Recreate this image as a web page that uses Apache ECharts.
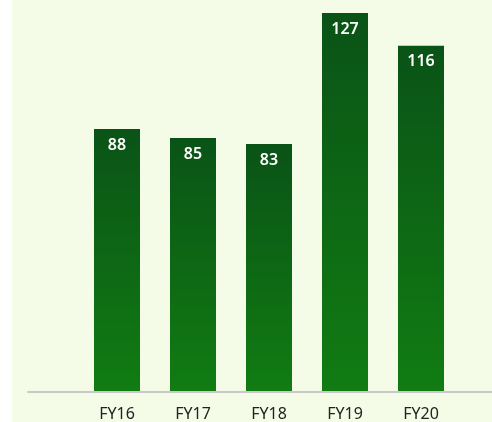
<!DOCTYPE html>
<html>
<head>
<meta charset="utf-8">
<script src="https://cdn.jsdelivr.net/npm/echarts@6/dist/echarts.min.js"></script>
<style>
  html, body { margin: 0; padding: 0; background: #ffffff; }
  #chart { position: absolute; left: 12px; top: 0; width: 480px; height: 422px; background: #f4fce8; }
</style>
</head>
<body>
<div id="chart"></div>
<script>
  // chart data
  var years = ['FY16', 'FY17', 'FY18', 'FY19', 'FY20']
  var values = [88, 85, 83, 127, 116]

  var chart = echarts.init(document.getElementById('chart'))
  var barColor = new echarts.graphic.LinearGradient(0, 0, 0, 1, [
    { offset: 0, color: '#0a5317' },
    { offset: 1, color: '#117c12' }
  ])

  var option = {
    animation: false,
    backgroundColor: '#f4fce8',
    textStyle: { fontFamily: '"Noto Sans", "Open Sans", sans-serif' },
    grid: [
      { left: 67, right: 33, top: 13, bottom: 30 },
      // wider grid only for the long baseline
      { left: 16, right: 0, top: 13, bottom: 30 }
    ],
    xAxis: [
      {
        type: 'category',
        data: years,
        gridIndex: 0,
        axisLine: { show: false },
        axisTick: { show: false },
        axisLabel: { color: '#222222', fontSize: 16, margin: 15 }
      },
      {
        type: 'value',
        gridIndex: 1,
        min: 0,
        max: 1,
        axisLine: { show: true, lineStyle: { color: '#c8c8c8', width: 2 } },
        axisTick: { show: false },
        axisLabel: { show: false },
        splitLine: { show: false }
      }
    ],
    yAxis: [
      { type: 'value', gridIndex: 0, min: 0, max: 127, show: false },
      { type: 'value', gridIndex: 1, min: 0, max: 1, show: false }
    ],
    series: [
      {
        type: 'bar',
        data: values,
        barWidth: 46,
        itemStyle: { color: barColor },
        label: {
          show: true,
          position: 'insideTop',
          distance: 8,
          color: '#ffffff',
          fontSize: 16,
          fontWeight: 600
        }
      }
    ]
  }
  chart.setOption(option)
</script>
</body>
</html>
